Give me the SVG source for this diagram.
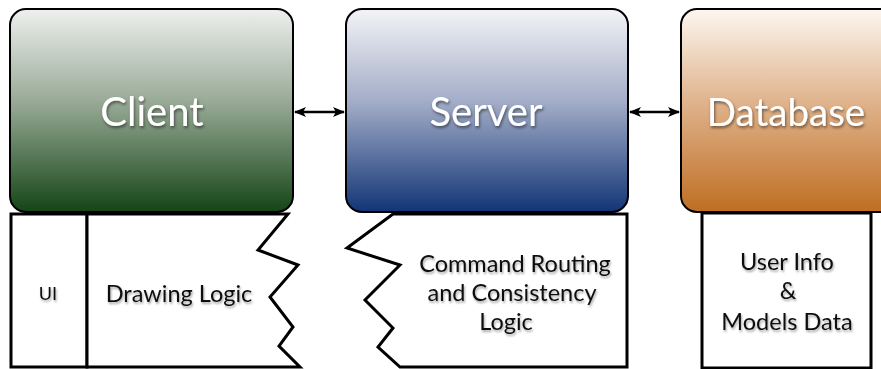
<svg xmlns="http://www.w3.org/2000/svg" width="881" height="369" viewBox="0 0 881 369">
  <defs>
    <linearGradient id="gClient" x1="0" y1="0" x2="0" y2="1">
      <stop offset="0" stop-color="#eef0ee"/>
      <stop offset="0.45" stop-color="#9aab98"/>
      <stop offset="1" stop-color="#154516"/>
    </linearGradient>
    <linearGradient id="gServer" x1="0" y1="0" x2="0" y2="1">
      <stop offset="0" stop-color="#f4f4f7"/>
      <stop offset="0.45" stop-color="#a4aec8"/>
      <stop offset="1" stop-color="#123476"/>
    </linearGradient>
    <linearGradient id="gDb" x1="0" y1="0" x2="0" y2="1">
      <stop offset="0" stop-color="#fdf7f1"/>
      <stop offset="0.45" stop-color="#e0b48e"/>
      <stop offset="1" stop-color="#bf6e22"/>
    </linearGradient>
    <filter id="lightShadow" x="-20%" y="-30%" width="140%" height="160%">
      <feDropShadow dx="1" dy="2" stdDeviation="1.5" flood-color="#000" flood-opacity="0.5"/>
    </filter>
    <filter id="darkShadow" x="-20%" y="-30%" width="140%" height="160%">
      <feDropShadow dx="1" dy="2" stdDeviation="1.2" flood-color="#000" flood-opacity="0.35"/>
    </filter>
    <marker id="arrowHead" viewBox="0 0 12 10" refX="11" refY="5" markerWidth="12" markerHeight="10" markerUnits="userSpaceOnUse" orient="auto-start-reverse">
      <path d="M0,0 L12,5 L0,10 L3,5 Z" fill="#000"/>
    </marker>
  </defs>
  <style>
    .tier { stroke: #000; stroke-width: 2; }
    .part { fill: #fff; stroke: #000; stroke-width: 3; stroke-linejoin: miter; }
    .title { font-family: Lato, "Open Sans", sans-serif; font-size: 40px; fill: #fff; text-anchor: middle; filter: url(#lightShadow); }
    .label { font-family: Lato, "Open Sans", sans-serif; font-size: 23.5px; fill: #111; text-anchor: middle; filter: url(#darkShadow); }
    .small { font-family: Lato, "Open Sans", sans-serif; font-size: 18px; fill: #111; text-anchor: middle; filter: url(#darkShadow); }
    .link { stroke: #000; stroke-width: 2.5; fill: none; }
  </style>

  <!-- Client tier and its parts -->
  <g id="client">
    <rect class="tier" x="10" y="9" width="283" height="203" rx="16" fill="url(#gClient)"/>
    <text class="title" x="152" y="126">Client</text>
  </g>
  <g id="client-ui">
    <rect class="part" x="11" y="214" width="76" height="153"/>
    <text class="small" x="48" y="300">UI</text>
  </g>
  <g id="client-drawing">
    <path class="part" d="M87,214 L288,214 L258,250 L298,265 L270,297 L293,327 L279,346 L300,367 L87,367 Z"/>
    <text class="label" x="179" y="302">Drawing Logic</text>
  </g>

  <!-- Server tier and its part -->
  <g id="server">
    <rect class="tier" x="346" y="9" width="282" height="203" rx="16" fill="url(#gServer)"/>
    <text class="title" x="486" y="126">Server</text>
  </g>
  <g id="server-routing">
    <path class="part" d="M393,214 L627,214 L627,367 L400,367 L378,347 L393,328 L365,300 L400,265 L347,248 Z"/>
    <text class="label" x="515" y="272">Command Routing</text>
    <text class="label" x="512" y="301">and Consistency</text>
    <text class="label" x="506" y="330">Logic</text>
  </g>

  <!-- Database tier and its part -->
  <g id="database">
    <rect class="tier" x="681" y="9" width="220" height="203" rx="16" fill="url(#gDb)"/>
    <text class="title" x="786" y="126" style="font-size:38.5px">Database</text>
  </g>
  <g id="database-data">
    <rect class="part" x="702" y="213" width="169" height="155"/>
    <text class="label" x="787" y="270">User Info</text>
    <text class="label" x="788" y="299">&amp;</text>
    <text class="label" x="787" y="330">Models Data</text>
  </g>

  <!-- Two-way links between tiers -->
  <g id="connectors">
    <line class="link" x1="295" y1="112" x2="344" y2="112" marker-start="url(#arrowHead)" marker-end="url(#arrowHead)"/>
    <line class="link" x1="630" y1="112" x2="679" y2="112" marker-start="url(#arrowHead)" marker-end="url(#arrowHead)"/>
  </g>
</svg>
